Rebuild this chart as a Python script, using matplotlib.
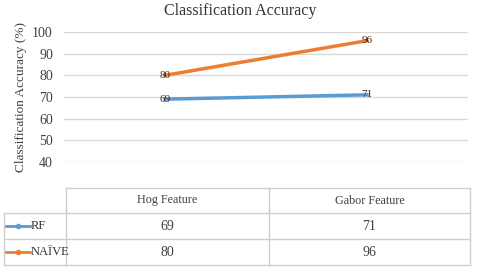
import matplotlib.pyplot as plt
from matplotlib.lines import Line2D

categories = ['Hog Feature', 'Gabor Feature']
series_names = ['RF', 'NAÏVE']
rf_values = [69, 71]
naive_values = [80, 96]
y_ticks = [40, 50, 60, 70, 80, 90, 100]

colors = ['#5B9BD5', '#ED7D31']
text_color = '#404040'
grid_color = '#D9D9D9'
edge_color = '#CFCFCF'

plt.rcParams['font.family'] = ['Liberation Serif', 'DejaVu Serif']

W, H = 480, 272
fig = plt.figure(figsize=(W / 100, H / 100), dpi=100)


def box(x0, y0, x1, y1):
    # pixel box (top-left origin) -> figure fraction rect
    return [x0 / W, 1 - y1 / H, (x1 - x0) / W, (y1 - y0) / H]


# line chart
ax = fig.add_axes(box(64, 32, 468, 162))
xs = [0.5, 1.5]
for vals, c in zip([rf_values, naive_values], colors):
    ax.plot(xs, vals, color=c, lw=2.5, zorder=3)
    for x, v in zip(xs, vals):
        ax.text(x, v, str(v), ha='center', va='center', fontsize=8,
                color='#3a2a1a', zorder=4)
ax.set_xlim(0, 2)
ax.set_ylim(40, 100)
ax.set_yticks(y_ticks)
ax.set_xticks([])
ax.grid(axis='y', color=grid_color, lw=1)
ax.set_axisbelow(True)
for s in ax.spines.values():
    s.set_visible(False)
ax.tick_params(axis='y', length=0, labelsize=10, labelcolor=text_color, pad=8)
ax.set_ylabel('Classification Accuracy (%)', fontsize=9.5, color=text_color, labelpad=4)
fig.text(0.5, 1 - 11 / H, 'Classification Accuracy', ha='center', va='center',
         fontsize=11.5, color='#333333')

# data table below
tab = fig.add_axes([0, 0, 1, 1])
tab.set_xlim(0, W)
tab.set_ylim(H, 0)
tab.axis('off')

col_x = [4, 66, 269, 470]
row_y = [188, 213, 239, 265]

tab.plot([col_x[1], col_x[3]], [row_y[0]] * 2, color=edge_color, lw=1)
for y in row_y[1:]:
    tab.plot([col_x[0], col_x[3]], [y, y], color=edge_color, lw=1)
tab.plot([col_x[0]] * 2, [row_y[1], row_y[3]], color=edge_color, lw=1)
for x in col_x[1:]:
    tab.plot([x, x], [row_y[0], row_y[3]], color=edge_color, lw=1)

for j, cat in enumerate(categories):
    cx = (col_x[j + 1] + col_x[j + 2]) / 2
    tab.text(cx, (row_y[0] + row_y[1]) / 2, cat, ha='center', va='center',
             fontsize=8.7, color=text_color)

for i, (name, vals, c) in enumerate(zip(series_names, [rf_values, naive_values], colors)):
    cy = (row_y[i + 1] + row_y[i + 2]) / 2
    tab.add_line(Line2D([6, 30], [cy, cy], color=c, lw=2))
    tab.plot([18], [cy], marker='o', ms=3, color=c)
    tab.text(31, cy, name, ha='left', va='center', fontsize=9, color='#333333')
    for j, v in enumerate(vals):
        cx = (col_x[j + 1] + col_x[j + 2]) / 2
        tab.text(cx, cy, str(v), ha='center', va='center', fontsize=10, color=text_color)

fig.savefig('out.png', dpi=100)
